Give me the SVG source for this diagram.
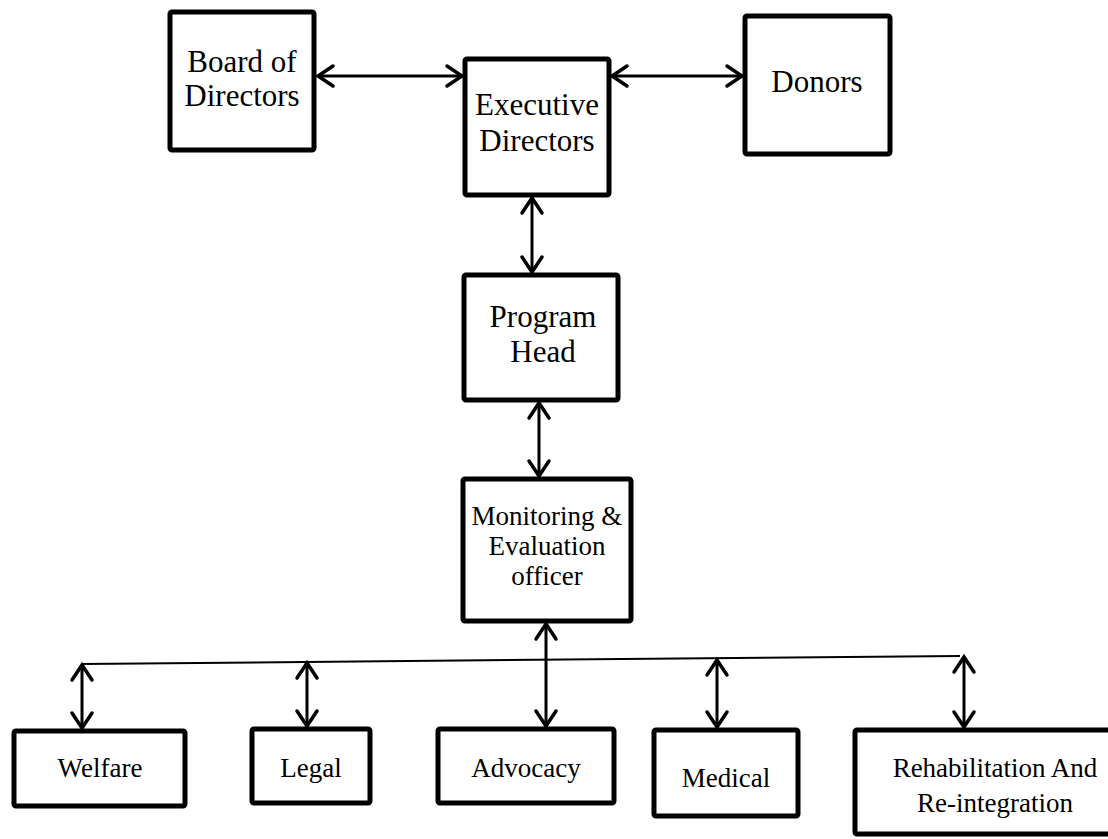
<svg xmlns="http://www.w3.org/2000/svg" width="1108" height="839" viewBox="0 0 1108 839">
<style>
.box{fill:#fff;stroke:#000;stroke-width:5;stroke-linejoin:round}
.t{font-family:"Liberation Serif","Times New Roman",serif;fill:#000;text-anchor:middle}
.big{font-size:31px}
.sm{font-size:27px}
.arr{stroke:#000;stroke-width:3;fill:none;marker-start:url(#ah);marker-end:url(#ah)}
.ln{stroke:#000;stroke-width:2;fill:none}
</style>
<defs>
<marker id="ah" markerUnits="userSpaceOnUse" viewBox="-20 -15 25 30" refX="0" refY="0" markerWidth="25" markerHeight="30" orient="auto-start-reverse" overflow="visible">
<path d="M-15,-10 L0,0 L-15,10" stroke="#000" stroke-width="3.5" fill="none" stroke-linecap="round" stroke-linejoin="miter"/>
</marker>
</defs>
<g id="connectors">
<line class="arr" x1="318" y1="76" x2="462" y2="76"/>
<line class="arr" x1="612" y1="76" x2="742" y2="76"/>
<line class="arr" x1="532" y1="198" x2="532" y2="272"/>
<line class="arr" x1="539" y1="403" x2="539" y2="476"/>
<line class="arr" x1="546" y1="624" x2="546" y2="726"/>
<line class="ln" x1="82" y1="664" x2="960" y2="656"/>
<line class="arr" x1="82" y1="665" x2="82" y2="728"/>
<line class="arr" x1="307" y1="663" x2="307" y2="726"/>
<line class="arr" x1="717" y1="660" x2="717" y2="727"/>
<line class="arr" x1="964" y1="657" x2="964" y2="727"/>
</g>
<g id="board">
<rect class="box" x="170" y="12" width="144" height="138" rx="2"/>
<text class="t big" x="242" y="72">Board of</text>
<text class="t big" x="242" y="106">Directors</text>
</g>
<g id="executive">
<rect class="box" x="465" y="59" width="144" height="136" rx="2"/>
<text class="t big" x="537" y="115">Executive</text>
<text class="t big" x="537" y="151">Directors</text>
</g>
<g id="donors">
<rect class="box" x="745" y="16" width="145" height="138" rx="2"/>
<text class="t big" x="817" y="92">Donors</text>
</g>
<g id="program">
<rect class="box" x="464" y="275" width="154" height="125" rx="2"/>
<text class="t big" x="543" y="327">Program</text>
<text class="t big" x="543" y="362">Head</text>
</g>
<g id="monitoring">
<rect class="box" x="463" y="479" width="168" height="142" rx="2"/>
<text class="t sm" x="547" y="525">Monitoring &amp;</text>
<text class="t sm" x="547" y="555">Evaluation</text>
<text class="t sm" x="547" y="585">officer</text>
</g>
<g id="welfare">
<rect class="box" x="14" y="731" width="171" height="75" rx="2"/>
<text class="t sm" x="100" y="777">Welfare</text>
</g>
<g id="legal">
<rect class="box" x="252" y="729" width="118" height="74" rx="2"/>
<text class="t sm" x="311" y="777">Legal</text>
</g>
<g id="advocacy">
<rect class="box" x="438" y="729" width="176" height="74" rx="2"/>
<text class="t sm" x="526" y="777">Advocacy</text>
</g>
<g id="medical">
<rect class="box" x="654" y="730" width="144" height="86" rx="2"/>
<text class="t sm" x="726" y="787">Medical</text>
</g>
<g id="rehab">
<rect class="box" x="855" y="730" width="260" height="104" rx="2"/>
<text class="t sm" x="995" y="777">Rehabilitation And</text>
<text class="t sm" x="995" y="812">Re-integration</text>
</g>
</svg>
